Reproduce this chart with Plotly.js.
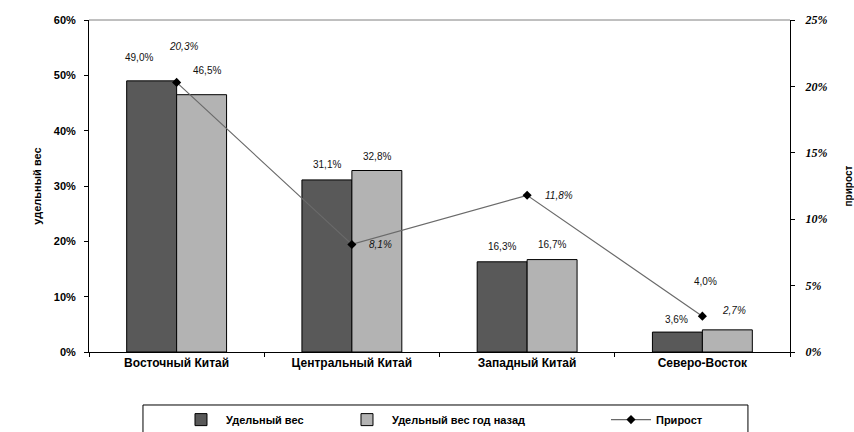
<!DOCTYPE html>
<html>
<head>
<meta charset="utf-8">
<script src="https://cdn.plot.ly/plotly-3.0.1.min.js"></script>
<style>
  html, body { margin: 0; padding: 0; background: #fff; }
  #chart { width: 854px; height: 432px; }
</style>
</head>
<body>
<div id="chart"></div>
<script>
// Регионы Китая: удельный вес и прирост
const regions = ['Восточный Китай', 'Центральный Китай', 'Западный Китай', 'Северо-Восток'];
const shareNow = [0.490, 0.311, 0.163, 0.036];
const shareYearAgo = [0.465, 0.328, 0.167, 0.040];
const growth = [0.203, 0.081, 0.118, 0.027];

const seriesNames = ['Удельный вес', 'Удельный вес год назад', 'Прирост'];
const leftTitle = 'удельный вес';
const rightTitle = 'прирост';

const FONT = '"Liberation Sans", Arial, sans-serif';
const fmtPct = v => (v * 100).toFixed(1).replace('.', ',') + '%';

const traces = [
  {
    type: 'bar', name: seriesNames[0], x: regions, y: shareNow, legend: 'legend',
    marker: { color: '#595959', line: { color: '#000', width: 1 } },
    hoverinfo: 'skip'
  },
  {
    type: 'bar', name: seriesNames[1], x: regions, y: shareYearAgo, legend: 'legend2',
    marker: { color: '#b3b3b3', line: { color: '#000', width: 1 } },
    hoverinfo: 'skip'
  },
  {
    type: 'scatter', mode: 'lines+markers', name: seriesNames[2], x: regions, y: growth,
    yaxis: 'y2', legend: 'legend3',
    line: { color: '#6a6a6a', width: 1.2 },
    marker: { symbol: 'diamond', size: 7, color: '#000' },
    hoverinfo: 'skip'
  }
];

// label offsets in pixels: [dx from mark centre, dy above mark]
const darkOff = [[-13, 23], [0, 15], [0, 15], [-1, 13]];
const lightOff = [[5, 24], [0, 14.5], [0, 15], [-22, 48]];
const lineOff = [[7, 36], [29, 0], [32, 0], [32, 6]];

const annotations = [];
regions.forEach((r, i) => {
  annotations.push({
    x: r, y: shareNow[i], xref: 'x', yref: 'y', text: fmtPct(shareNow[i]),
    showarrow: false, xshift: -25 + darkOff[i][0], yshift: darkOff[i][1],
    yanchor: 'middle', font: { family: FONT, size: 10, color: '#111' }
  });
  annotations.push({
    x: r, y: shareYearAgo[i], xref: 'x', yref: 'y', text: fmtPct(shareYearAgo[i]),
    showarrow: false, xshift: 25 + lightOff[i][0], yshift: lightOff[i][1],
    yanchor: 'middle', font: { family: FONT, size: 10, color: '#111' }
  });
  annotations.push({
    x: r, y: growth[i], xref: 'x', yref: 'y2', text: '<i>' + fmtPct(growth[i]) + '</i>',
    showarrow: false, xshift: lineOff[i][0], yshift: lineOff[i][1],
    yanchor: 'middle', font: { family: FONT, size: 10, color: '#111' }
  });
});

// one legend per series, laid out in a single framed row below the plot
const legendStyle = x => ({
  orientation: 'h', x: x, xanchor: 'left', y: -0.16, yanchor: 'top',
  borderwidth: 0, bgcolor: 'rgba(0,0,0,0)',
  font: { family: FONT, size: 11, color: '#000', weight: 'bold' },
  itemwidth: 40
});

const layout = {
  width: 854, height: 432,
  margin: { l: 89, r: 64, t: 20, b: 80, autoexpand: false },
  paper_bgcolor: '#fff', plot_bgcolor: '#fff',
  separators: ', ',
  barmode: 'group', bargap: 0.43, bargroupgap: 0,
  showlegend: true,
  legend: legendStyle(0.1241),
  legend2: legendStyle(0.3609),
  legend3: legendStyle(0.7375),
  xaxis: {
    type: 'category', showline: true, linecolor: '#000', linewidth: 1,
    ticks: 'outside', ticklen: 4, tickcolor: '#000', tickson: 'boundaries',
    showgrid: false, zeroline: false, automargin: false,
    tickfont: { family: FONT, size: 12, color: '#000', weight: 'bold' }
  },
  yaxis: {
    range: [0, 0.6], dtick: 0.1, tickformat: '.0%',
    showline: true, linecolor: '#000', linewidth: 1,
    ticks: 'outside', ticklen: 4, tickcolor: '#000', ticklabelstandoff: 6,
    showgrid: false, zeroline: false, automargin: false,
    tickfont: { family: FONT, size: 11, color: '#000', weight: 'bold' },
    title: { text: leftTitle, standoff: 9, font: { family: FONT, size: 11, color: '#000', weight: 'bold' } }
  },
  yaxis2: {
    overlaying: 'y', side: 'right', range: [0, 0.25], dtick: 0.05, tickformat: '.0%',
    showline: true, linecolor: '#000', linewidth: 1,
    ticks: 'outside', ticklen: 4, tickcolor: '#000', ticklabelstandoff: 8,
    showgrid: false, zeroline: false, automargin: false,
    tickfont: { family: '"Liberation Serif", "Times New Roman", serif', size: 12, color: '#000', weight: 'bold', style: 'italic' },
    title: { text: rightTitle, standoff: 20, font: { family: FONT, size: 10, color: '#000', weight: 'bold' } }
  },
  shapes: [
    // top frame line of the plot area
    { type: 'line', xref: 'paper', yref: 'paper', x0: 0, x1: 1, y0: 1, y1: 1,
      line: { color: '#808080', width: 1 } },
    // legend frame
    { type: 'rect', xref: 'paper', yref: 'paper', x0: 0.077, x1: 0.940, y0: -0.1596, y1: -0.40,
      line: { color: '#000', width: 1 }, fillcolor: 'rgba(0,0,0,0)', layer: 'below' }
  ],
  annotations: annotations
};

Plotly.newPlot('chart', traces, layout, { staticPlot: true, displayModeBar: false });
</script>
</body>
</html>
